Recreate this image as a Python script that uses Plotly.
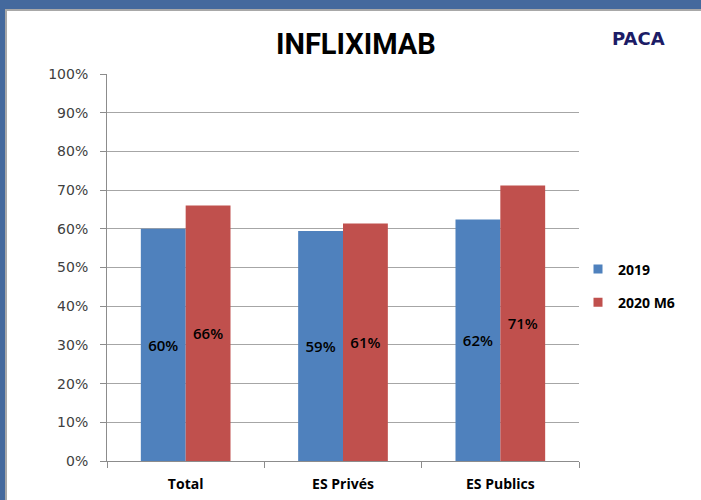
import plotly.graph_objects as go

categories = ["Total", "ES Privés", "ES Publics"]
series_names = ["2019", "2020 M6"]
values_2019 = [0.60, 0.594, 0.624]
values_2020 = [0.66, 0.614, 0.712]
y_ticks = [0, 0.1, 0.2, 0.3, 0.4, 0.5, 0.6, 0.7, 0.8, 0.9, 1.0]
colors = ["#4F81BD", "#C0504D"]

W, H = 701, 500
L, R, T, B = 107, 122, 74, 39

def px(x):
    return (x - L) / (W - L - R)

def py(y):
    return (H - B - y) / (H - T - B)

fig = go.Figure()
for name, vals, col in zip(series_names, [values_2019, values_2020], colors):
    fig.add_trace(go.Bar(
        x=categories, y=vals, name=name, marker=dict(color=col, line=dict(width=0)),
        texttemplate="%{y:.0%}", textposition="inside", insidetextanchor="middle",
        textangle=0,
        textfont=dict(family="Open Sans", size=15, color="#000000", weight=600),
        showlegend=False,
    ))
    fig.add_trace(go.Scatter(
        x=[None], y=[None], mode="markers", name=name,
        marker=dict(symbol="square", size=9, color=col),
        legendgroup=name,
    ))

fig.update_layout(
    width=W, height=H,
    margin=dict(l=L, r=R, t=T, b=B, autoexpand=False),
    paper_bgcolor="white", plot_bgcolor="white",
    barmode="group", bargap=0.43, bargroupgap=0,
    showlegend=True,
    legend=dict(x=px(578), y=py(286), xanchor="left", yanchor="middle",
                font=dict(family="Open Sans", size=14, color="#000000", weight=700),
                tracegroupgap=12, itemwidth=30, bgcolor="rgba(0,0,0,0)"),
    xaxis=dict(showline=True, linecolor="#8C8C8C", linewidth=1, ticks="outside",
               tickson="boundaries", ticklen=6, tickcolor="#8C8C8C",
               ticklabelstandoff=10, automargin=False,
               tickfont=dict(family="Open Sans", size=14, color="#000000", weight=700),
               showgrid=False),
    yaxis=dict(range=[0, 1], tickvals=y_ticks, tickformat=".0%", showline=True,
               linecolor="#8C8C8C", linewidth=1, ticks="outside", ticklen=6,
               tickcolor="#8C8C8C", gridcolor="#A6A6A6", gridwidth=1,
               ticklabelstandoff=9, automargin=False,
               tickfont=dict(family="DejaVu Sans", size=14, color="#404040"),
               zeroline=False),
    annotations=[
        dict(text="INFLIXIMAB", x=px(356), y=py(44), xref="paper", yref="paper",
             showarrow=False, xanchor="center", yanchor="middle",
             font=dict(family="Roboto", size=29, color="#000000", weight=700)),
        dict(text="PACA", x=px(638), y=py(38), xref="paper", yref="paper",
             showarrow=False, xanchor="center", yanchor="middle",
             font=dict(family="DejaVu Sans", size=18, color="#1C1C66", weight=700)),
    ],
    shapes=[
        dict(type="rect", xref="paper", yref="paper", x0=px(-5), x1=px(710),
             y0=py(9), y1=py(-5), fillcolor="#44699D", line=dict(width=0), layer="above"),
        dict(type="rect", xref="paper", yref="paper", x0=px(-5), x1=px(5),
             y0=py(505), y1=py(-5), fillcolor="#44699D", line=dict(width=0), layer="above"),
        dict(type="line", xref="paper", yref="paper", x0=px(5), x1=px(710),
             y0=py(10), y1=py(10), line=dict(color="#A8A8A8", width=2)),
        dict(type="line", xref="paper", yref="paper", x0=px(6), x1=px(6),
             y0=py(10), y1=py(505), line=dict(color="#A8A8A8", width=2)),
    ],
)

fig.write_html("out.html", config={"displayModeBar": False},
               post_script="document.body.style.margin='0';document.body.style.overflow='hidden';")
